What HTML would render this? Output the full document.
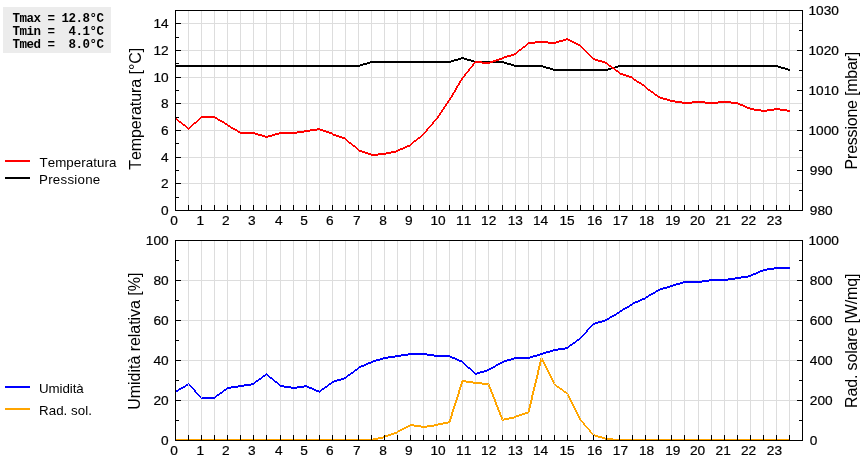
<!DOCTYPE html>
<html><head><meta charset="utf-8"><title>Grafico meteo</title>
<style>
html,body{margin:0;padding:0;background:#fff}
body{width:860px;height:460px;overflow:hidden;position:relative}
svg{position:absolute;left:0;top:0;display:block;will-change:transform}
text{font-family:"Liberation Sans",sans-serif;fill:#000;font-kerning:none}
.tk{font-size:12.8px;letter-spacing:0px;stroke:#000;stroke-width:0.2px}
.lg{font-size:13.33px}
.ti{font-size:16px}
.bx{position:absolute;left:3px;top:7px;width:108px;height:46px;background:#ececec;will-change:transform}
.bx pre{margin:0;position:absolute;left:9.4px;top:6px;font:bold 12.5px/13px "Liberation Mono",monospace;letter-spacing:-0.5px;color:#000}
</style></head><body>
<div class="bx"><pre>Tmax = 12.8°C
Tmin =  4.1°C
Tmed =  8.0°C</pre></div>
<svg width="860" height="460" viewBox="0 0 860 460">
<g stroke="#ddd" stroke-width="1" shape-rendering="crispEdges">
<line x1="188.5" y1="11" x2="188.5" y2="210"/>
<line x1="201.5" y1="11" x2="201.5" y2="210"/>
<line x1="214.5" y1="11" x2="214.5" y2="210"/>
<line x1="227.5" y1="11" x2="227.5" y2="210"/>
<line x1="240.5" y1="11" x2="240.5" y2="210"/>
<line x1="253.5" y1="11" x2="253.5" y2="210"/>
<line x1="266.5" y1="11" x2="266.5" y2="210"/>
<line x1="280.5" y1="11" x2="280.5" y2="210"/>
<line x1="293.5" y1="11" x2="293.5" y2="210"/>
<line x1="306.5" y1="11" x2="306.5" y2="210"/>
<line x1="319.5" y1="11" x2="319.5" y2="210"/>
<line x1="332.5" y1="11" x2="332.5" y2="210"/>
<line x1="345.5" y1="11" x2="345.5" y2="210"/>
<line x1="358.5" y1="11" x2="358.5" y2="210"/>
<line x1="371.5" y1="11" x2="371.5" y2="210"/>
<line x1="384.5" y1="11" x2="384.5" y2="210"/>
<line x1="397.5" y1="11" x2="397.5" y2="210"/>
<line x1="410.5" y1="11" x2="410.5" y2="210"/>
<line x1="423.5" y1="11" x2="423.5" y2="210"/>
<line x1="436.5" y1="11" x2="436.5" y2="210"/>
<line x1="449.5" y1="11" x2="449.5" y2="210"/>
<line x1="462.5" y1="11" x2="462.5" y2="210"/>
<line x1="475.5" y1="11" x2="475.5" y2="210"/>
<line x1="488.5" y1="11" x2="488.5" y2="210"/>
<line x1="502.5" y1="11" x2="502.5" y2="210"/>
<line x1="515.5" y1="11" x2="515.5" y2="210"/>
<line x1="528.5" y1="11" x2="528.5" y2="210"/>
<line x1="541.5" y1="11" x2="541.5" y2="210"/>
<line x1="554.5" y1="11" x2="554.5" y2="210"/>
<line x1="567.5" y1="11" x2="567.5" y2="210"/>
<line x1="580.5" y1="11" x2="580.5" y2="210"/>
<line x1="593.5" y1="11" x2="593.5" y2="210"/>
<line x1="606.5" y1="11" x2="606.5" y2="210"/>
<line x1="619.5" y1="11" x2="619.5" y2="210"/>
<line x1="632.5" y1="11" x2="632.5" y2="210"/>
<line x1="645.5" y1="11" x2="645.5" y2="210"/>
<line x1="658.5" y1="11" x2="658.5" y2="210"/>
<line x1="671.5" y1="11" x2="671.5" y2="210"/>
<line x1="684.5" y1="11" x2="684.5" y2="210"/>
<line x1="698.5" y1="11" x2="698.5" y2="210"/>
<line x1="711.5" y1="11" x2="711.5" y2="210"/>
<line x1="724.5" y1="11" x2="724.5" y2="210"/>
<line x1="737.5" y1="11" x2="737.5" y2="210"/>
<line x1="750.5" y1="11" x2="750.5" y2="210"/>
<line x1="763.5" y1="11" x2="763.5" y2="210"/>
<line x1="776.5" y1="11" x2="776.5" y2="210"/>
<line x1="789.5" y1="11" x2="789.5" y2="210"/>
<line x1="176" y1="183.5" x2="802" y2="183.5"/>
<line x1="176" y1="157.5" x2="802" y2="157.5"/>
<line x1="176" y1="130.5" x2="802" y2="130.5"/>
<line x1="176" y1="103.5" x2="802" y2="103.5"/>
<line x1="176" y1="77.5" x2="802" y2="77.5"/>
<line x1="176" y1="50.5" x2="802" y2="50.5"/>
<line x1="176" y1="23.5" x2="802" y2="23.5"/>
</g>
<g shape-rendering="crispEdges">
<path d="M175.0,65L189.0,65V67L175.0,67ZM188.0,65L202.0,65V67L188.0,67ZM201.0,65L215.0,65V67L201.0,67ZM214.0,65L228.0,65V67L214.0,67ZM227.0,65L241.0,65V67L227.0,67ZM240.0,65L254.0,65V67L240.0,67ZM253.0,65L267.0,65V67L253.0,67ZM266.0,65L281.0,65V67L266.0,67ZM280.0,65L294.0,65V67L280.0,67ZM293.0,65L307.0,65V67L293.0,67ZM306.0,65L320.0,65V67L306.0,67ZM319.0,65L333.0,65V67L319.0,67ZM332.0,65L346.0,65V67L332.0,67ZM345.0,65L359.0,65V67L345.0,67ZM358.0,65L372.0,61V63L358.0,67ZM371.0,61L385.0,61V63L371.0,63ZM384.0,61L398.0,61V63L384.0,63ZM397.0,61L411.0,61V63L397.0,63ZM410.0,61L424.0,61V63L410.0,63ZM423.0,61L437.0,61V63L423.0,63ZM436.0,61L450.0,61V63L436.0,63ZM449.0,61L463.0,57V59L449.0,63ZM462.0,57L476.0,61V63L462.0,59ZM475.0,61L489.0,61V63L475.0,63ZM488.0,61L503.0,61V63L488.0,63ZM502.0,61L516.0,65V67L502.0,63ZM515.0,65L529.0,65V67L515.0,67ZM528.0,65L542.0,65V67L528.0,67ZM541.0,65L555.0,69V71L541.0,67ZM554.0,69L568.0,69V71L554.0,71ZM567.0,69L581.0,69V71L567.0,71ZM580.0,69L594.0,69V71L580.0,71ZM593.0,69L607.0,69V71L593.0,71ZM606.0,69L620.0,65V67L606.0,71ZM619.0,65L633.0,65V67L619.0,67ZM632.0,65L646.0,65V67L632.0,67ZM645.0,65L659.0,65V67L645.0,67ZM658.0,65L672.0,65V67L658.0,67ZM671.0,65L685.0,65V67L671.0,67ZM684.0,65L699.0,65V67L684.0,67ZM698.0,65L712.0,65V67L698.0,67ZM711.0,65L725.0,65V67L711.0,67ZM724.0,65L738.0,65V67L724.0,67ZM737.0,65L751.0,65V67L737.0,67ZM750.0,65L764.0,65V67L750.0,67ZM763.0,65L777.0,65V67L763.0,67ZM776.0,65L790.0,69V71L776.0,67Z" fill="#000"/>
<path d="M175.0,117L189.0,128V130L175.0,119ZM188.0,128L202.0,116V118L188.0,130ZM201.0,116L215.0,116V118L201.0,118ZM214.0,116L228.0,124V126L214.0,118ZM227.0,124L241.0,132V134L227.0,126ZM240.0,132L254.0,132V134L240.0,134ZM253.0,132L267.0,136V138L253.0,134ZM266.0,136L281.0,132V134L266.0,138ZM280.0,132L294.0,132V134L280.0,134ZM293.0,132L307.0,130V132L293.0,134ZM306.0,130L320.0,128V130L306.0,132ZM319.0,128L333.0,133V135L319.0,130ZM332.0,133L346.0,138V140L332.0,135ZM345.0,138L359.0,149V151L345.0,140ZM358.0,149L372.0,154V156L358.0,151ZM371.0,154L385.0,153V155L371.0,156ZM384.0,153L398.0,150V152L384.0,155ZM397.0,150L411.0,144V146L397.0,152ZM410.0,144L424.0,133V135L410.0,146ZM422.5,134L435.5,119H437.5L424.5,134ZM435.5,119L448.5,100H450.5L437.5,119ZM448.5,100L461.5,78H463.5L450.5,100ZM461.5,78L474.5,62H476.5L463.5,78ZM475.0,61L489.0,62V64L475.0,63ZM488.0,62L503.0,57V59L488.0,64ZM502.0,57L516.0,53V55L502.0,59ZM515.0,53L529.0,42V44L515.0,55ZM528.0,42L542.0,41V43L528.0,44ZM541.0,41L555.0,42V44L541.0,43ZM554.0,42L568.0,38V40L554.0,44ZM567.0,38L581.0,45V47L567.0,40ZM580.0,45L594.0,58V60L580.0,47ZM593.0,58L607.0,62V64L593.0,60ZM606.0,62L620.0,72V74L606.0,64ZM619.0,72L633.0,77V79L619.0,74ZM632.0,77L646.0,86V88L632.0,79ZM645.0,86L659.0,96V98L645.0,88ZM658.0,96L672.0,100V102L658.0,98ZM671.0,100L685.0,102V104L671.0,102ZM684.0,102L699.0,101V103L684.0,104ZM698.0,101L712.0,102V104L698.0,103ZM711.0,102L725.0,101V103L711.0,104ZM724.0,101L738.0,102V104L724.0,103ZM737.0,102L751.0,108V110L737.0,104ZM750.0,108L764.0,110V112L750.0,110ZM763.0,110L777.0,108V110L763.0,112ZM776.0,108L790.0,110V112L776.0,110Z" fill="#f00"/>
</g>
<g stroke="#000" stroke-width="1" shape-rendering="crispEdges" fill="none">
<rect x="175.5" y="10.5" width="627" height="200"/>
<line x1="188.5" y1="205" x2="188.5" y2="210"/>
<line x1="201.5" y1="205" x2="201.5" y2="210"/>
<line x1="214.5" y1="205" x2="214.5" y2="210"/>
<line x1="227.5" y1="205" x2="227.5" y2="210"/>
<line x1="240.5" y1="205" x2="240.5" y2="210"/>
<line x1="253.5" y1="205" x2="253.5" y2="210"/>
<line x1="266.5" y1="205" x2="266.5" y2="210"/>
<line x1="280.5" y1="205" x2="280.5" y2="210"/>
<line x1="293.5" y1="205" x2="293.5" y2="210"/>
<line x1="306.5" y1="205" x2="306.5" y2="210"/>
<line x1="319.5" y1="205" x2="319.5" y2="210"/>
<line x1="332.5" y1="205" x2="332.5" y2="210"/>
<line x1="345.5" y1="205" x2="345.5" y2="210"/>
<line x1="358.5" y1="205" x2="358.5" y2="210"/>
<line x1="371.5" y1="205" x2="371.5" y2="210"/>
<line x1="384.5" y1="205" x2="384.5" y2="210"/>
<line x1="397.5" y1="205" x2="397.5" y2="210"/>
<line x1="410.5" y1="205" x2="410.5" y2="210"/>
<line x1="423.5" y1="205" x2="423.5" y2="210"/>
<line x1="436.5" y1="205" x2="436.5" y2="210"/>
<line x1="449.5" y1="205" x2="449.5" y2="210"/>
<line x1="462.5" y1="205" x2="462.5" y2="210"/>
<line x1="475.5" y1="205" x2="475.5" y2="210"/>
<line x1="488.5" y1="205" x2="488.5" y2="210"/>
<line x1="502.5" y1="205" x2="502.5" y2="210"/>
<line x1="515.5" y1="205" x2="515.5" y2="210"/>
<line x1="528.5" y1="205" x2="528.5" y2="210"/>
<line x1="541.5" y1="205" x2="541.5" y2="210"/>
<line x1="554.5" y1="205" x2="554.5" y2="210"/>
<line x1="567.5" y1="205" x2="567.5" y2="210"/>
<line x1="580.5" y1="205" x2="580.5" y2="210"/>
<line x1="593.5" y1="205" x2="593.5" y2="210"/>
<line x1="606.5" y1="205" x2="606.5" y2="210"/>
<line x1="619.5" y1="205" x2="619.5" y2="210"/>
<line x1="632.5" y1="205" x2="632.5" y2="210"/>
<line x1="645.5" y1="205" x2="645.5" y2="210"/>
<line x1="658.5" y1="205" x2="658.5" y2="210"/>
<line x1="671.5" y1="205" x2="671.5" y2="210"/>
<line x1="684.5" y1="205" x2="684.5" y2="210"/>
<line x1="698.5" y1="205" x2="698.5" y2="210"/>
<line x1="711.5" y1="205" x2="711.5" y2="210"/>
<line x1="724.5" y1="205" x2="724.5" y2="210"/>
<line x1="737.5" y1="205" x2="737.5" y2="210"/>
<line x1="750.5" y1="205" x2="750.5" y2="210"/>
<line x1="763.5" y1="205" x2="763.5" y2="210"/>
<line x1="776.5" y1="205" x2="776.5" y2="210"/>
<line x1="789.5" y1="205" x2="789.5" y2="210"/>
<line x1="176" y1="210.5" x2="181" y2="210.5"/>
<line x1="176" y1="183.5" x2="181" y2="183.5"/>
<line x1="176" y1="157.5" x2="181" y2="157.5"/>
<line x1="176" y1="130.5" x2="181" y2="130.5"/>
<line x1="176" y1="103.5" x2="181" y2="103.5"/>
<line x1="176" y1="77.5" x2="181" y2="77.5"/>
<line x1="176" y1="50.5" x2="181" y2="50.5"/>
<line x1="176" y1="23.5" x2="181" y2="23.5"/>
<line x1="176" y1="197.5" x2="179" y2="197.5"/>
<line x1="176" y1="170.5" x2="179" y2="170.5"/>
<line x1="176" y1="143.5" x2="179" y2="143.5"/>
<line x1="176" y1="117.5" x2="179" y2="117.5"/>
<line x1="176" y1="90.5" x2="179" y2="90.5"/>
<line x1="176" y1="63.5" x2="179" y2="63.5"/>
<line x1="176" y1="37.5" x2="179" y2="37.5"/>
<line x1="797" y1="210.5" x2="802" y2="210.5"/>
<line x1="797" y1="170.5" x2="802" y2="170.5"/>
<line x1="797" y1="130.5" x2="802" y2="130.5"/>
<line x1="797" y1="90.5" x2="802" y2="90.5"/>
<line x1="797" y1="50.5" x2="802" y2="50.5"/>
<line x1="797" y1="10.5" x2="802" y2="10.5"/>
<line x1="799" y1="190.5" x2="802" y2="190.5"/>
<line x1="799" y1="150.5" x2="802" y2="150.5"/>
<line x1="799" y1="110.5" x2="802" y2="110.5"/>
<line x1="799" y1="70.5" x2="802" y2="70.5"/>
<line x1="799" y1="30.5" x2="802" y2="30.5"/>
</g>
<g class="tk">
<text class="tk" transform="translate(168.7,215.2) scale(1.07,1)" text-anchor="end">0</text>
<text class="tk" transform="translate(168.7,188.2) scale(1.07,1)" text-anchor="end">2</text>
<text class="tk" transform="translate(168.7,162.2) scale(1.07,1)" text-anchor="end">4</text>
<text class="tk" transform="translate(168.7,135.2) scale(1.07,1)" text-anchor="end">6</text>
<text class="tk" transform="translate(168.7,108.2) scale(1.07,1)" text-anchor="end">8</text>
<text class="tk" transform="translate(168.7,82.2) scale(1.07,1)" text-anchor="end">10</text>
<text class="tk" transform="translate(168.7,55.2) scale(1.07,1)" text-anchor="end">12</text>
<text class="tk" transform="translate(168.7,28.2) scale(1.07,1)" text-anchor="end">14</text>
<text class="tk" transform="translate(809.8,215.2) scale(1.07,1)">980</text>
<text class="tk" transform="translate(809.8,175.2) scale(1.07,1)">990</text>
<text class="tk" transform="translate(808.4,135.2) scale(1.07,1)">1000</text>
<text class="tk" transform="translate(808.4,95.2) scale(1.07,1)">1010</text>
<text class="tk" transform="translate(808.4,55.2) scale(1.07,1)">1020</text>
<text class="tk" transform="translate(808.4,15.2) scale(1.07,1)">1030</text>
<text class="tk" transform="translate(174.0,225.2) scale(1.07,1)" text-anchor="middle">0</text>
<text class="tk" transform="translate(200.2,225.2) scale(1.07,1)" text-anchor="middle">1</text>
<text class="tk" transform="translate(225.8,225.2) scale(1.07,1)" text-anchor="middle">2</text>
<text class="tk" transform="translate(251.9,225.2) scale(1.07,1)" text-anchor="middle">3</text>
<text class="tk" transform="translate(278.8,225.2) scale(1.07,1)" text-anchor="middle">4</text>
<text class="tk" transform="translate(304.1,225.2) scale(1.07,1)" text-anchor="middle">5</text>
<text class="tk" transform="translate(329.8,225.2) scale(1.07,1)" text-anchor="middle">6</text>
<text class="tk" transform="translate(356.9,225.2) scale(1.07,1)" text-anchor="middle">7</text>
<text class="tk" transform="translate(383.1,225.2) scale(1.07,1)" text-anchor="middle">8</text>
<text class="tk" transform="translate(408.9,225.2) scale(1.07,1)" text-anchor="middle">9</text>
<text class="tk" transform="translate(438.1,225.2) scale(1.07,1)" text-anchor="middle">10</text>
<text class="tk" transform="translate(463.7,225.2) scale(1.07,1)" text-anchor="middle">11</text>
<text class="tk" transform="translate(488.7,225.2) scale(1.07,1)" text-anchor="middle">12</text>
<text class="tk" transform="translate(515.3,225.2) scale(1.07,1)" text-anchor="middle">13</text>
<text class="tk" transform="translate(540.6,225.2) scale(1.07,1)" text-anchor="middle">14</text>
<text class="tk" transform="translate(567.0,225.2) scale(1.07,1)" text-anchor="middle">15</text>
<text class="tk" transform="translate(594.7,225.2) scale(1.07,1)" text-anchor="middle">16</text>
<text class="tk" transform="translate(620.4,225.2) scale(1.07,1)" text-anchor="middle">17</text>
<text class="tk" transform="translate(646.6,225.2) scale(1.07,1)" text-anchor="middle">18</text>
<text class="tk" transform="translate(672.8,225.2) scale(1.07,1)" text-anchor="middle">19</text>
<text class="tk" transform="translate(697.5,225.2) scale(1.07,1)" text-anchor="middle">20</text>
<text class="tk" transform="translate(723.2,225.2) scale(1.07,1)" text-anchor="middle">21</text>
<text class="tk" transform="translate(748.6,225.2) scale(1.07,1)" text-anchor="middle">22</text>
<text class="tk" transform="translate(774.4,225.2) scale(1.07,1)" text-anchor="middle">23</text>
</g>
<g stroke="#ddd" stroke-width="1" shape-rendering="crispEdges">
<line x1="188.5" y1="241" x2="188.5" y2="440"/>
<line x1="201.5" y1="241" x2="201.5" y2="440"/>
<line x1="214.5" y1="241" x2="214.5" y2="440"/>
<line x1="227.5" y1="241" x2="227.5" y2="440"/>
<line x1="240.5" y1="241" x2="240.5" y2="440"/>
<line x1="253.5" y1="241" x2="253.5" y2="440"/>
<line x1="266.5" y1="241" x2="266.5" y2="440"/>
<line x1="280.5" y1="241" x2="280.5" y2="440"/>
<line x1="293.5" y1="241" x2="293.5" y2="440"/>
<line x1="306.5" y1="241" x2="306.5" y2="440"/>
<line x1="319.5" y1="241" x2="319.5" y2="440"/>
<line x1="332.5" y1="241" x2="332.5" y2="440"/>
<line x1="345.5" y1="241" x2="345.5" y2="440"/>
<line x1="358.5" y1="241" x2="358.5" y2="440"/>
<line x1="371.5" y1="241" x2="371.5" y2="440"/>
<line x1="384.5" y1="241" x2="384.5" y2="440"/>
<line x1="397.5" y1="241" x2="397.5" y2="440"/>
<line x1="410.5" y1="241" x2="410.5" y2="440"/>
<line x1="423.5" y1="241" x2="423.5" y2="440"/>
<line x1="436.5" y1="241" x2="436.5" y2="440"/>
<line x1="449.5" y1="241" x2="449.5" y2="440"/>
<line x1="462.5" y1="241" x2="462.5" y2="440"/>
<line x1="475.5" y1="241" x2="475.5" y2="440"/>
<line x1="488.5" y1="241" x2="488.5" y2="440"/>
<line x1="502.5" y1="241" x2="502.5" y2="440"/>
<line x1="515.5" y1="241" x2="515.5" y2="440"/>
<line x1="528.5" y1="241" x2="528.5" y2="440"/>
<line x1="541.5" y1="241" x2="541.5" y2="440"/>
<line x1="554.5" y1="241" x2="554.5" y2="440"/>
<line x1="567.5" y1="241" x2="567.5" y2="440"/>
<line x1="580.5" y1="241" x2="580.5" y2="440"/>
<line x1="593.5" y1="241" x2="593.5" y2="440"/>
<line x1="606.5" y1="241" x2="606.5" y2="440"/>
<line x1="619.5" y1="241" x2="619.5" y2="440"/>
<line x1="632.5" y1="241" x2="632.5" y2="440"/>
<line x1="645.5" y1="241" x2="645.5" y2="440"/>
<line x1="658.5" y1="241" x2="658.5" y2="440"/>
<line x1="671.5" y1="241" x2="671.5" y2="440"/>
<line x1="684.5" y1="241" x2="684.5" y2="440"/>
<line x1="698.5" y1="241" x2="698.5" y2="440"/>
<line x1="711.5" y1="241" x2="711.5" y2="440"/>
<line x1="724.5" y1="241" x2="724.5" y2="440"/>
<line x1="737.5" y1="241" x2="737.5" y2="440"/>
<line x1="750.5" y1="241" x2="750.5" y2="440"/>
<line x1="763.5" y1="241" x2="763.5" y2="440"/>
<line x1="776.5" y1="241" x2="776.5" y2="440"/>
<line x1="789.5" y1="241" x2="789.5" y2="440"/>
<line x1="176" y1="400.5" x2="802" y2="400.5"/>
<line x1="176" y1="360.5" x2="802" y2="360.5"/>
<line x1="176" y1="320.5" x2="802" y2="320.5"/>
<line x1="176" y1="280.5" x2="802" y2="280.5"/>
<line x1="176" y1="240.5" x2="802" y2="240.5"/>
</g>
<g shape-rendering="crispEdges">
<path d="M175.0,439L189.0,439V441L175.0,441ZM188.0,439L202.0,439V441L188.0,441ZM201.0,439L215.0,439V441L201.0,441ZM214.0,439L228.0,439V441L214.0,441ZM227.0,439L241.0,439V441L227.0,441ZM240.0,439L254.0,439V441L240.0,441ZM253.0,439L267.0,439V441L253.0,441ZM266.0,439L281.0,439V441L266.0,441ZM280.0,439L294.0,439V441L280.0,441ZM293.0,439L307.0,439V441L293.0,441ZM306.0,439L320.0,439V441L306.0,441ZM319.0,439L333.0,439V441L319.0,441ZM332.0,439L346.0,439V441L332.0,441ZM345.0,439L359.0,439V441L345.0,441ZM358.0,439L372.0,439V441L358.0,441ZM371.0,439L385.0,436V438L371.0,441ZM384.0,436L398.0,431V433L384.0,438ZM397.0,431L411.0,424V426L397.0,433ZM410.0,424L424.0,426V428L410.0,426ZM423.0,426L437.0,424V426L423.0,428ZM436.0,424L450.0,421V423L436.0,426ZM448.5,422L461.5,381H463.5L450.5,422ZM462.0,380L476.0,382V384L462.0,382ZM475.0,382L489.0,383V385L475.0,384ZM487.5,384L501.5,420H503.5L489.5,384ZM502.0,419L516.0,416V418L502.0,421ZM515.0,416L529.0,411V413L515.0,418ZM527.5,412L540.5,358H542.5L529.5,412ZM540.5,358L553.5,384H555.5L542.5,358ZM554.0,383L568.0,393V395L554.0,385ZM566.5,394L579.5,420H581.5L568.5,394ZM579.5,420L592.5,435H594.5L581.5,420ZM593.0,434L607.0,438V440L593.0,436ZM606.0,438L620.0,439V441L606.0,440ZM619.0,439L633.0,439V441L619.0,441ZM632.0,439L646.0,439V441L632.0,441ZM645.0,439L659.0,439V441L645.0,441ZM658.0,439L672.0,439V441L658.0,441ZM671.0,439L685.0,439V441L671.0,441ZM684.0,439L699.0,439V441L684.0,441ZM698.0,439L712.0,439V441L698.0,441ZM711.0,439L725.0,439V441L711.0,441ZM724.0,439L738.0,439V441L724.0,441ZM737.0,439L751.0,439V441L737.0,441ZM750.0,439L764.0,439V441L750.0,441ZM763.0,439L777.0,439V441L763.0,441ZM776.0,439L790.0,439V441L776.0,441Z" fill="#ffa500"/>
<path d="M175.0,391L189.0,383V385L175.0,393ZM187.5,384L200.5,398H202.5L189.5,384ZM201.0,397L215.0,397V399L201.0,399ZM214.0,397L228.0,387V389L214.0,399ZM227.0,387L241.0,385V387L227.0,389ZM240.0,385L254.0,383V385L240.0,387ZM253.0,383L267.0,373V375L253.0,385ZM266.0,373L281.0,385V387L266.0,375ZM280.0,385L294.0,387V389L280.0,387ZM293.0,387L307.0,385V387L293.0,389ZM306.0,385L320.0,391V393L306.0,387ZM319.0,391L333.0,381V383L319.0,393ZM332.0,381L346.0,377V379L332.0,383ZM345.0,377L359.0,367V369L345.0,379ZM358.0,367L372.0,361V363L358.0,369ZM371.0,361L385.0,357V359L371.0,363ZM384.0,357L398.0,355V357L384.0,359ZM397.0,355L411.0,353V355L397.0,357ZM410.0,353L424.0,353V355L410.0,355ZM423.0,353L437.0,355V357L423.0,355ZM436.0,355L450.0,355V357L436.0,357ZM449.0,355L463.0,361V363L449.0,357ZM462.0,361L476.0,373V375L462.0,363ZM475.0,373L489.0,369V371L475.0,375ZM488.0,369L503.0,361V363L488.0,371ZM502.0,361L516.0,357V359L502.0,363ZM515.0,357L529.0,357V359L515.0,359ZM528.0,357L542.0,353V355L528.0,359ZM541.0,353L555.0,349V351L541.0,355ZM554.0,349L568.0,347V349L554.0,351ZM567.0,347L581.0,337V339L567.0,349ZM579.5,338L592.5,324H594.5L581.5,338ZM593.0,323L607.0,319V321L593.0,325ZM606.0,319L620.0,311V313L606.0,321ZM619.0,311L633.0,303V305L619.0,313ZM632.0,303L646.0,297V299L632.0,305ZM645.0,297L659.0,289V291L645.0,299ZM658.0,289L672.0,285V287L658.0,291ZM671.0,285L685.0,281V283L671.0,287ZM684.0,281L699.0,281V283L684.0,283ZM698.0,281L712.0,279V281L698.0,283ZM711.0,279L725.0,279V281L711.0,281ZM724.0,279L738.0,277V279L724.0,281ZM737.0,277L751.0,275V277L737.0,279ZM750.0,275L764.0,269V271L750.0,277ZM763.0,269L777.0,267V269L763.0,271ZM776.0,267L790.0,267V269L776.0,269Z" fill="#00f"/>
</g>
<g stroke="#000" stroke-width="1" shape-rendering="crispEdges" fill="none">
<rect x="175.5" y="240.5" width="627" height="200"/>
<line x1="188.5" y1="435" x2="188.5" y2="440"/>
<line x1="201.5" y1="435" x2="201.5" y2="440"/>
<line x1="214.5" y1="435" x2="214.5" y2="440"/>
<line x1="227.5" y1="435" x2="227.5" y2="440"/>
<line x1="240.5" y1="435" x2="240.5" y2="440"/>
<line x1="253.5" y1="435" x2="253.5" y2="440"/>
<line x1="266.5" y1="435" x2="266.5" y2="440"/>
<line x1="280.5" y1="435" x2="280.5" y2="440"/>
<line x1="293.5" y1="435" x2="293.5" y2="440"/>
<line x1="306.5" y1="435" x2="306.5" y2="440"/>
<line x1="319.5" y1="435" x2="319.5" y2="440"/>
<line x1="332.5" y1="435" x2="332.5" y2="440"/>
<line x1="345.5" y1="435" x2="345.5" y2="440"/>
<line x1="358.5" y1="435" x2="358.5" y2="440"/>
<line x1="371.5" y1="435" x2="371.5" y2="440"/>
<line x1="384.5" y1="435" x2="384.5" y2="440"/>
<line x1="397.5" y1="435" x2="397.5" y2="440"/>
<line x1="410.5" y1="435" x2="410.5" y2="440"/>
<line x1="423.5" y1="435" x2="423.5" y2="440"/>
<line x1="436.5" y1="435" x2="436.5" y2="440"/>
<line x1="449.5" y1="435" x2="449.5" y2="440"/>
<line x1="462.5" y1="435" x2="462.5" y2="440"/>
<line x1="475.5" y1="435" x2="475.5" y2="440"/>
<line x1="488.5" y1="435" x2="488.5" y2="440"/>
<line x1="502.5" y1="435" x2="502.5" y2="440"/>
<line x1="515.5" y1="435" x2="515.5" y2="440"/>
<line x1="528.5" y1="435" x2="528.5" y2="440"/>
<line x1="541.5" y1="435" x2="541.5" y2="440"/>
<line x1="554.5" y1="435" x2="554.5" y2="440"/>
<line x1="567.5" y1="435" x2="567.5" y2="440"/>
<line x1="580.5" y1="435" x2="580.5" y2="440"/>
<line x1="593.5" y1="435" x2="593.5" y2="440"/>
<line x1="606.5" y1="435" x2="606.5" y2="440"/>
<line x1="619.5" y1="435" x2="619.5" y2="440"/>
<line x1="632.5" y1="435" x2="632.5" y2="440"/>
<line x1="645.5" y1="435" x2="645.5" y2="440"/>
<line x1="658.5" y1="435" x2="658.5" y2="440"/>
<line x1="671.5" y1="435" x2="671.5" y2="440"/>
<line x1="684.5" y1="435" x2="684.5" y2="440"/>
<line x1="698.5" y1="435" x2="698.5" y2="440"/>
<line x1="711.5" y1="435" x2="711.5" y2="440"/>
<line x1="724.5" y1="435" x2="724.5" y2="440"/>
<line x1="737.5" y1="435" x2="737.5" y2="440"/>
<line x1="750.5" y1="435" x2="750.5" y2="440"/>
<line x1="763.5" y1="435" x2="763.5" y2="440"/>
<line x1="776.5" y1="435" x2="776.5" y2="440"/>
<line x1="789.5" y1="435" x2="789.5" y2="440"/>
<line x1="176" y1="440.5" x2="181" y2="440.5"/>
<line x1="176" y1="400.5" x2="181" y2="400.5"/>
<line x1="176" y1="360.5" x2="181" y2="360.5"/>
<line x1="176" y1="320.5" x2="181" y2="320.5"/>
<line x1="176" y1="280.5" x2="181" y2="280.5"/>
<line x1="176" y1="240.5" x2="181" y2="240.5"/>
<line x1="176" y1="420.5" x2="179" y2="420.5"/>
<line x1="176" y1="380.5" x2="179" y2="380.5"/>
<line x1="176" y1="340.5" x2="179" y2="340.5"/>
<line x1="176" y1="300.5" x2="179" y2="300.5"/>
<line x1="176" y1="260.5" x2="179" y2="260.5"/>
<line x1="797" y1="440.5" x2="802" y2="440.5"/>
<line x1="797" y1="400.5" x2="802" y2="400.5"/>
<line x1="797" y1="360.5" x2="802" y2="360.5"/>
<line x1="797" y1="320.5" x2="802" y2="320.5"/>
<line x1="797" y1="280.5" x2="802" y2="280.5"/>
<line x1="797" y1="240.5" x2="802" y2="240.5"/>
<line x1="799" y1="420.5" x2="802" y2="420.5"/>
<line x1="799" y1="380.5" x2="802" y2="380.5"/>
<line x1="799" y1="340.5" x2="802" y2="340.5"/>
<line x1="799" y1="300.5" x2="802" y2="300.5"/>
<line x1="799" y1="260.5" x2="802" y2="260.5"/>
</g>
<g class="tk">
<text class="tk" transform="translate(168.7,445.2) scale(1.07,1)" text-anchor="end">0</text>
<text class="tk" transform="translate(168.7,405.2) scale(1.07,1)" text-anchor="end">20</text>
<text class="tk" transform="translate(168.7,365.2) scale(1.07,1)" text-anchor="end">40</text>
<text class="tk" transform="translate(168.7,325.2) scale(1.07,1)" text-anchor="end">60</text>
<text class="tk" transform="translate(168.7,285.2) scale(1.07,1)" text-anchor="end">80</text>
<text class="tk" transform="translate(168.7,245.2) scale(1.07,1)" text-anchor="end">100</text>
<text class="tk" transform="translate(809.8,445.2) scale(1.07,1)">0</text>
<text class="tk" transform="translate(809.8,405.2) scale(1.07,1)">200</text>
<text class="tk" transform="translate(809.8,365.2) scale(1.07,1)">400</text>
<text class="tk" transform="translate(809.8,325.2) scale(1.07,1)">600</text>
<text class="tk" transform="translate(809.8,285.2) scale(1.07,1)">800</text>
<text class="tk" transform="translate(808.4,245.2) scale(1.07,1)">1000</text>
<text class="tk" transform="translate(174.0,455.2) scale(1.07,1)" text-anchor="middle">0</text>
<text class="tk" transform="translate(200.2,455.2) scale(1.07,1)" text-anchor="middle">1</text>
<text class="tk" transform="translate(225.8,455.2) scale(1.07,1)" text-anchor="middle">2</text>
<text class="tk" transform="translate(251.9,455.2) scale(1.07,1)" text-anchor="middle">3</text>
<text class="tk" transform="translate(278.8,455.2) scale(1.07,1)" text-anchor="middle">4</text>
<text class="tk" transform="translate(304.1,455.2) scale(1.07,1)" text-anchor="middle">5</text>
<text class="tk" transform="translate(329.8,455.2) scale(1.07,1)" text-anchor="middle">6</text>
<text class="tk" transform="translate(356.9,455.2) scale(1.07,1)" text-anchor="middle">7</text>
<text class="tk" transform="translate(383.1,455.2) scale(1.07,1)" text-anchor="middle">8</text>
<text class="tk" transform="translate(408.9,455.2) scale(1.07,1)" text-anchor="middle">9</text>
<text class="tk" transform="translate(438.1,455.2) scale(1.07,1)" text-anchor="middle">10</text>
<text class="tk" transform="translate(463.7,455.2) scale(1.07,1)" text-anchor="middle">11</text>
<text class="tk" transform="translate(488.7,455.2) scale(1.07,1)" text-anchor="middle">12</text>
<text class="tk" transform="translate(515.3,455.2) scale(1.07,1)" text-anchor="middle">13</text>
<text class="tk" transform="translate(540.6,455.2) scale(1.07,1)" text-anchor="middle">14</text>
<text class="tk" transform="translate(567.0,455.2) scale(1.07,1)" text-anchor="middle">15</text>
<text class="tk" transform="translate(594.7,455.2) scale(1.07,1)" text-anchor="middle">16</text>
<text class="tk" transform="translate(620.4,455.2) scale(1.07,1)" text-anchor="middle">17</text>
<text class="tk" transform="translate(646.6,455.2) scale(1.07,1)" text-anchor="middle">18</text>
<text class="tk" transform="translate(672.8,455.2) scale(1.07,1)" text-anchor="middle">19</text>
<text class="tk" transform="translate(697.5,455.2) scale(1.07,1)" text-anchor="middle">20</text>
<text class="tk" transform="translate(723.2,455.2) scale(1.07,1)" text-anchor="middle">21</text>
<text class="tk" transform="translate(748.6,455.2) scale(1.07,1)" text-anchor="middle">22</text>
<text class="tk" transform="translate(774.4,455.2) scale(1.07,1)" text-anchor="middle">23</text>
</g>
<g shape-rendering="crispEdges" stroke-width="2">
<line x1="5" y1="161" x2="30" y2="161" stroke="#f00"/>
<line x1="5" y1="178" x2="30" y2="178" stroke="#000"/>
<line x1="5" y1="387" x2="30" y2="387" stroke="#00f"/>
<line x1="5" y1="409" x2="30" y2="409" stroke="#ffa500"/>
</g>
<text class="lg" x="39.5" y="167" style="letter-spacing:0.06px">Temperatura</text>
<text class="lg" x="39" y="184" style="letter-spacing:0.25px">Pressione</text>
<text class="lg" x="39" y="392.5" style="letter-spacing:-0.08px">Umidità</text>
<text class="lg" x="39" y="414.5" style="letter-spacing:0.05px">Rad. sol.</text>
<text class="ti" text-anchor="middle" style="letter-spacing:-0.05px" transform="translate(140.9,108.8) rotate(-90)">Temperatura [°C]</text>
<text class="ti" text-anchor="middle" style="letter-spacing:-0.22px" transform="translate(856.5,110.7) rotate(-90)">Pressione [mbar]</text>
<text class="ti" text-anchor="middle" style="letter-spacing:-0.04px" transform="translate(140.3,341.2) rotate(-90)">Umidità relativa [%]</text>
<text class="ti" text-anchor="middle" style="letter-spacing:-0.15px" transform="translate(856.5,340.8) rotate(-90)">Rad. solare [W/mq]</text>
</svg></body></html>
